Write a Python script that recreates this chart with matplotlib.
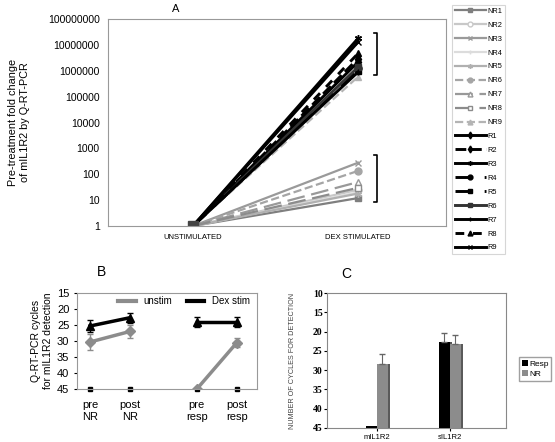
import numpy as np
import matplotlib
matplotlib.use("Agg")
import matplotlib.pyplot as plt

plt.rcParams['font.family'] = ['Liberation Sans', 'DejaVu Sans']

# Panel A: fold change, unstimulated -> dex stimulated
a_categories = ['UNSTIMULATED', 'DEX STIMULATED']
a_names = ['NR1', 'NR2', 'NR3', 'NR4', 'NR5', 'NR6', 'NR7', 'NR8', 'NR9',
           'R1', 'R2', 'R3', 'R4', 'R5', 'R6', 'R7', 'R8', 'R9']
a_dex = [12, 25, 280, 20, 18, 135, 50, 30, 5.9e5,
         2.2e6, 3.0e6, 1.8e7, 1.25e6, 1.0e6, 1.4e6, 9e5, 4.7e6, 1.3e7]
a_unstim = [1] * len(a_names)

# Panel B: cycles for detection
b_labels = ['pre\nNR', 'post\nNR', 'pre\nresp', 'post\nresp']
b_unstim = [30.3, 27.0, 45.0, 30.5]
b_unstim_err = [2.5, 2.0, 0.0, 1.5]
b_dex = [25.3, 22.7, 24.0, 24.0]
b_dex_err = [2.0, 1.5, 1.5, 1.5]

# Panel C: bars
c_labels = ['mIL1R2', 'sIL1R2']
c_resp = [44.6, 22.7]
c_resp_err = [0.0, 2.2]
c_nr = [28.3, 23.2]
c_nr_err = [2.5, 2.3]

fig = plt.figure(figsize=(5.55, 4.42), dpi=100)

# ---------------- Panel A
axA = fig.add_axes([0.1946, 0.4887, 0.609, 0.468])
styles = [
    ('#7f7f7f', '-', 's', True),
    ('#c8c8c8', '-', 'o', False),
    ('#9a9a9a', '-', 'x', True),
    ('#dcdcdc', '-', '+', True),
    ('#b0b0b0', '-', (6, 2, 0), True),
    ('#a5a5a5', '--', 'o', True),
    ('#999999', (0, (8, 3)), '^', False),
    ('#8c8c8c', (0, (8, 3)), 's', False),
    ('#b4b4b4', '--', '^', True),
    ('#000000', '-', 'd', True),
    ('#000000', '--', 'd', True),
    ('#000000', '-', (6, 2, 0), True),
    ('#000000', (0, (6, 4)), 'o', True),
    ('#000000', (0, (6, 4)), 's', True),
    ('#333333', '-', 's', True),
    ('#000000', '-', '|', True),
    ('#000000', (0, (3, 3)), '^', True),
    ('#000000', '-', 'x', True),
]
xpos = np.arange(len(a_categories))
handles = []
for name, u, d, (col, ls, mk, filled) in zip(a_names, a_unstim, a_dex, styles):
    lw = 2.1 if name.startswith('R') else 1.6
    h, = axA.plot(xpos, [u, d], color=col, linestyle=ls, linewidth=lw,
                  marker=mk, markersize=5,
                  markerfacecolor=col if filled else 'white',
                  markeredgecolor=col, label=name)
    handles.append(h)
axA.plot([0], [1], marker='s', markersize=7, color='#444444', linestyle='none')
axA.set_yscale('log')
axA.set_ylim(1, 1e8)
axA.set_xlim(-0.515, 1.533)
axA.set_yticks([10 ** k for k in range(9)])
axA.set_yticklabels([str(10 ** k) for k in range(9)], fontsize=7.5)
axA.minorticks_off()
axA.set_xticks(xpos)
axA.set_xticklabels(a_categories, fontsize=5.5)
axA.tick_params(length=0, pad=6)
for s in axA.spines.values():
    s.set_color('#999999')
axA.set_ylabel('Pre-treatment fold change\nof mIL1R2 by Q-RT-PCR', fontsize=7.8,
               labelpad=13)
axA.set_title('A', fontsize=8, pad=5, x=0.2)

# brackets grouping responders / non-responders
for lo, hi in [(10 ** 5.83, 10 ** 7.45), (10 ** 0.93, 10 ** 2.74)]:
    axA.plot([1.095, 1.115, 1.115, 1.095], [hi, hi, lo, lo], color='black', lw=1.2)

leg = fig.legend(handles=handles, loc='upper left', bbox_to_anchor=(0.808, 0.997),
                 fontsize=5.3, frameon=True, handlelength=4.2, labelspacing=0.92,
                 handletextpad=0.2, borderpad=0.35, fancybox=False, markerscale=0.7)
leg.get_frame().set_edgecolor('#cccccc')
leg.get_frame().set_linewidth(0.8)

# ---------------- Panel B
axB = fig.add_axes([0.1387, 0.1199, 0.324, 0.217])
bx = np.array([0, 1, 2.675, 3.675])
for seg in [slice(0, 2), slice(2, 4)]:
    axB.errorbar(bx[seg], b_unstim[seg], yerr=b_unstim_err[seg], color='#8c8c8c',
                 lw=2.5, marker='D', markersize=5, capsize=2.5, elinewidth=1)
    axB.errorbar(bx[seg], b_dex[seg], yerr=b_dex_err[seg], color='black',
                 lw=2.5, marker='^', markersize=6, capsize=2.5, elinewidth=1)
axB.plot(bx, [45] * 4, 's', color='black', markersize=2.5, clip_on=False)
axB.plot([], [], color='#8c8c8c', lw=3, label='unstim')
axB.plot([], [], color='black', lw=3, label='Dex stim')
axB.legend(loc='upper right', ncol=2, frameon=False, fontsize=7, handlelength=1.8,
           columnspacing=1.5, borderpad=0.2, bbox_to_anchor=(1.0, 1.04))
axB.set_ylim(45, 15)
axB.set_yticks([15, 20, 25, 30, 35, 40, 45])
axB.set_xlim(-0.325, 4.175)
axB.set_xticks(bx)
axB.set_xticklabels(b_labels, fontsize=8)
axB.tick_params(axis='y', labelsize=8, length=2)
axB.tick_params(axis='x', length=0, pad=8)
for s in axB.spines.values():
    s.set_color('#999999')
axB.set_ylabel('Q-RT-PCR cycles\nfor mIL1R2 detection', fontsize=7.5, labelpad=3)
fig.text(0.175, 0.375, 'B', fontsize=10)

# ---------------- Panel C
axC = fig.add_axes([0.589, 0.0317, 0.3225, 0.3054])
cx = np.arange(len(c_labels))
w = 0.15
bars_r = axC.bar(cx - w / 2, np.array(c_resp) - 45, width=w, bottom=45,
                 color='black', label='Resp', zorder=3)
bars_n = axC.bar(cx + w / 2, np.array(c_nr) - 45, width=w, bottom=45,
                 color='#8c8c8c', label='NR', zorder=3)
# shaded side for the 3-D look
axC.bar(cx - w / 2 + 0.03, np.array(c_resp) - 45, width=w, bottom=45,
        color='#555555', zorder=2)
axC.bar(cx + w / 2 + 0.03, np.array(c_nr) - 45, width=w, bottom=45,
        color='#5a5a5a', zorder=2)
axC.errorbar(cx[1:] - w / 2, c_resp[1:], yerr=[c_resp_err[1:], [0]], fmt='none',
             ecolor='#666666', capsize=2.5, lw=0.8, zorder=4)
axC.errorbar(cx + w / 2, c_nr, yerr=[c_nr_err, [0, 0]], fmt='none',
             ecolor='#666666', capsize=2.5, lw=0.8, zorder=4)
axC.set_ylim(45, 10)
axC.set_xlim(-0.685, 1.767)
axC.set_yticks([10, 15, 20, 25, 30, 35, 40, 45])
axC.set_yticklabels(['10', '15', '20', '25', '30', '35', '40', '45'],
                    fontdict={'family': 'Liberation Serif', 'weight': 'bold',
                              'size': 7})
axC.set_xticks(cx)
axC.set_xticklabels(c_labels, fontsize=5.5)
axC.tick_params(axis='y', length=2, pad=1)
axC.tick_params(axis='x', length=2, pad=2)
for s in axC.spines.values():
    s.set_color('#888888')
    s.set_linewidth(0.8)
axC.set_ylabel('NUMBER OF CYCLES FOR DETECTION', fontsize=5.2, labelpad=12,
               color='#444444')
fig.text(0.615, 0.37, 'C', fontsize=10)
fig.legend(handles=[bars_r, bars_n], loc='center left',
           bbox_to_anchor=(0.928, 0.165), fontsize=6, frameon=True,
           fancybox=False, handlelength=0.7, handleheight=0.7,
           handletextpad=0.2, borderpad=0.3, labelspacing=0.3,
           edgecolor='#888888')

fig.savefig('out.png', dpi=100)
